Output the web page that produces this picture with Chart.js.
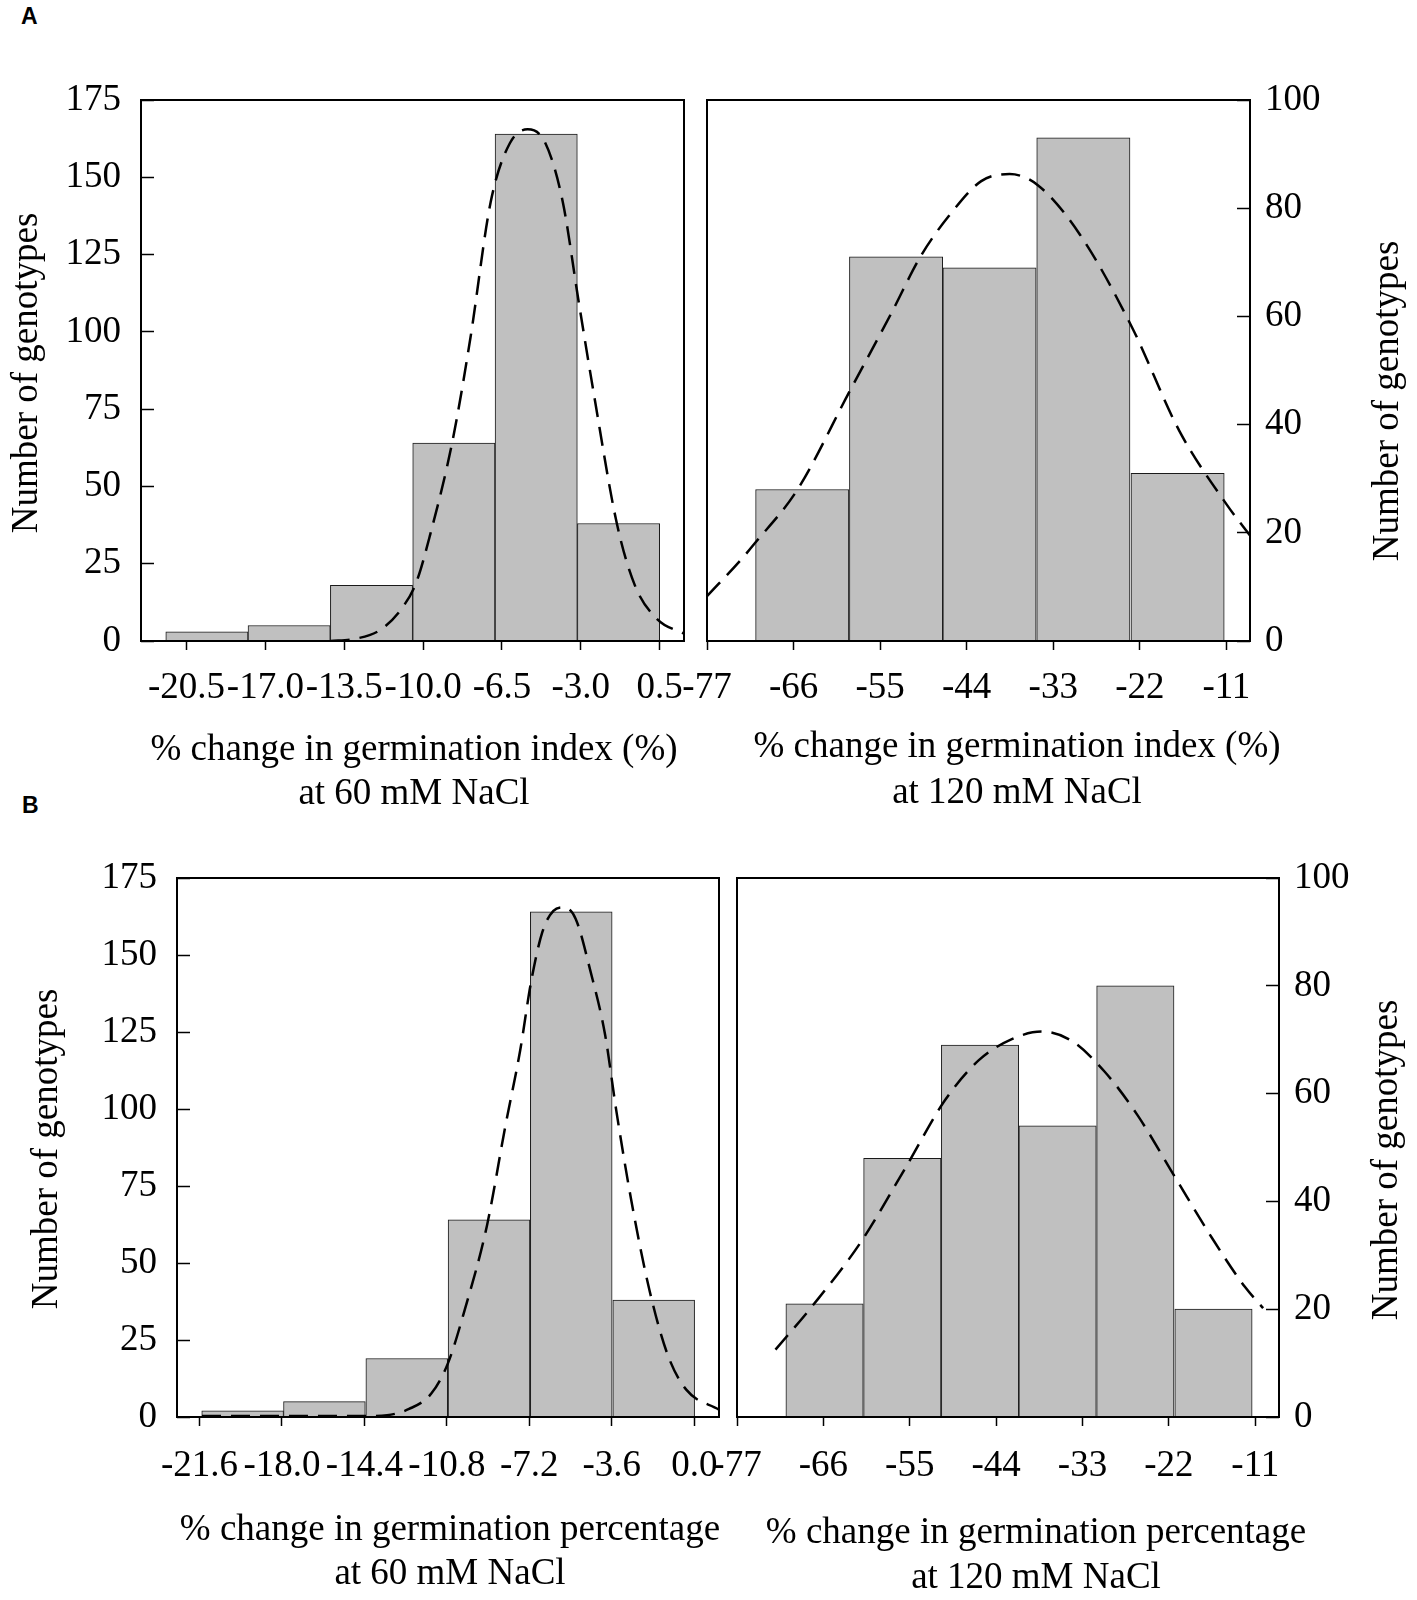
<!DOCTYPE html>
<html>
<head>
<meta charset="utf-8">
<script src="https://cdn.jsdelivr.net/npm/chart.js@4.4.1/dist/chart.umd.min.js"></script>
<style>
  html, body { margin: 0; padding: 0; background: #fff; }
  #page { position: relative; width: 1417px; height: 1600px; overflow: hidden; }
  #page canvas { position: absolute; left: 0; top: 0; }
  .tag { position: absolute; font: bold 23px "Liberation Sans", Arial, sans-serif; line-height: 23px; color: #000; }
</style>
</head>
<body>
<div id="page">
  <div class="tag" style="left:21px; top:5px;">A</div>
  <div class="tag" style="left:22px; top:794px;">B</div>
  <canvas id="aLeft" width="1417" height="1600"></canvas>
  <canvas id="aRight" width="1417" height="1600"></canvas>
  <canvas id="bLeft" width="1417" height="1600"></canvas>
  <canvas id="bRight" width="1417" height="1600"></canvas>
</div>
<script>
// A, left: germination index at 60 mM NaCl
const giLowEdges = [-21.42, -17.77, -14.12, -10.46, -6.81, -3.15, 0.5];
const giLowCounts = [3, 5, 18, 64, 164, 38];
const giLowTicks = [-20.5, -17.0, -13.5, -10.0, -6.5, -3.0, 0.5];
const giLowTickLabels = ['-20.5', '-17.0', '-13.5', '-10.0', '-6.5', '-3.0', '0.5'];
const giLowCurveX = [-14.1, -13.1, -11.9, -10.9, -10.3, -9.7, -8.7, -7.9, -7.0, -6.15, -5.36, -4.57, -3.8, -3.1, -2.4, -1.4, -0.6, 0.4, 1.58];
const giLowCurveY = [0, 0.6, 3.6, 11, 19, 34, 64.5, 98, 142, 161, 165.5, 161, 142, 110, 79, 38, 18, 7, 2.4];

// A, right: germination index at 120 mM NaCl
const giHighEdges = [-70.9, -58.9, -47.05, -35.15, -23.2, -11.2];
const giHighCounts = [28, 71, 69, 93, 31];
const giHighTicks = [-77, -66, -55, -44, -33, -22, -11];
const giHighTickLabels = ['-77', '-66', '-55', '-44', '-33', '-22', '-11'];
const giHighCurveX = [-77, -72.7, -70.9, -65.5, -58.9, -53.5, -49.9, -46.3, -42.15, -38.55, -35.0, -29.6, -23.0, -17.0, -11.0, -8.0];
const giHighCurveY = [8.3, 15, 18.1, 28, 46.1, 60.8, 71, 78.5, 85, 86.3, 84.3, 75.1, 58, 38.9, 25.3, 19.5];

// B, left: germination percentage at 60 mM NaCl
const gpLowEdges = [-21.49, -17.94, -14.35, -10.75, -7.17, -3.57, 0.03];
const gpLowCounts = [2, 5, 19, 64, 164, 38];
const gpLowTicks = [-21.6, -18.0, -14.4, -10.8, -7.2, -3.6, 0.0];
const gpLowTickLabels = ['-21.6', '-18.0', '-14.4', '-10.8', '-7.2', '-3.6', '0.0'];
const gpLowCurveX = [-21.49, -14.38, -13.41, -12.45, -11.48, -10.75, -10.02, -9.05, -8.25, -7.6, -7.12, -6.63, -6.15, -5.7, -5.18, -4.54, -3.89, -3.4, -2.76, -1.95, -1.15, -0.34, 1.08];
const gpLowCurveY = [0.3, 0.3, 0.6, 2.6, 7.6, 17.5, 34.8, 62.1, 94.3, 119, 141.4, 157.5, 164.3, 165.5, 161.8, 145, 124, 99.3, 70.8, 41, 20, 8.8, 2.4];

// B, right: germination percentage at 120 mM NaCl
const gpHighEdges = [-70.8, -60.9, -51.0, -41.1, -31.25, -21.3, -11.35];
const gpHighCounts = [21, 48, 69, 54, 80, 20];
const gpHighTicks = [-77, -66, -55, -44, -33, -22, -11];
const gpHighTickLabels = ['-77', '-66', '-55', '-44', '-33', '-22', '-11'];
const gpHighCurveX = [-72.1, -67.4, -61.3, -55.6, -50.5, -46.2, -42.0, -38.2, -34.4, -30.2, -26.0, -21.3, -16.55, -12.3, -10.0];
const gpHighCurveY = [12.5, 20.6, 32.3, 46.1, 58.8, 66.2, 70.1, 71.5, 69.8, 64.1, 56.0, 44.7, 33.3, 24.1, 20.2];

const yTitle = 'Number of genotypes';

Chart.defaults.font.family = '"Liberation Serif", "Times New Roman", serif';
Chart.defaults.font.size = 37;
Chart.defaults.color = '#000';

const PAGE_W = 1417, PAGE_H = 1600;
const Y_W = 130, X_H = 150;

// box round the plot area
const frame = {
    id: 'frame',
    afterDatasetsDraw(chart) {
        const { ctx, chartArea: a } = chart;
        ctx.save();
        ctx.strokeStyle = '#000';
        ctx.lineWidth = 2;
        ctx.strokeRect(a.left, a.top, a.right - a.left, a.bottom - a.top);
        ctx.restore();
    }
};

function captions(p) {
    return {
        id: 'captions',
        afterDraw(chart) {
            const ctx = chart.ctx;
            ctx.save();
            ctx.fillStyle = '#000';
            ctx.font = '37px "Liberation Serif", "Times New Roman", serif';
            ctx.textAlign = 'center';
            ctx.textBaseline = 'alphabetic';
            p.xTitle.forEach((t, i) => ctx.fillText(t, p.xTitleCenter, p.xTitleBase[i]));
            ctx.translate(p.yTitleBase, p.yTitleCenter);
            ctx.rotate(-Math.PI / 2);
            ctx.fillText(yTitle, 0, 0);
            ctx.restore();
        }
    };
}

function drawPanel(id, p) {
    const centers = p.counts.map((c, i) => (p.edges[i] + p.edges[i + 1]) / 2);
    const left = p.side === 'left';
    const padding = {
        left: left ? p.box.l - Y_W : p.box.l,
        right: left ? PAGE_W - p.box.r : PAGE_W - p.box.r - Y_W,
        top: p.box.t,
        bottom: PAGE_H - p.box.b - X_H
    };

    new Chart(document.getElementById(id), {
        type: 'bar',
        data: {
            datasets: [{
                type: 'line',
                xAxisID: 'x',
                data: p.curveX.map((x, i) => ({ x: x, y: p.curveY[i] })),
                borderColor: '#000',
                borderWidth: 2.5,
                borderDash: [19, 10],
                pointRadius: 0,
                fill: false,
                cubicInterpolationMode: 'monotone',
                order: 1
            }, {
                type: 'bar',
                xAxisID: 'xb',
                data: centers.map((c, i) => ({ x: c, y: p.counts[i] })),
                backgroundColor: '#c0c0c0',
                borderColor: '#1a1a1a',
                borderWidth: 1,
                grouped: false,
                barPercentage: 1,
                categoryPercentage: 1,
                order: 2
            }]
        },
        options: {
            responsive: false,
            animation: false,
            events: [],
            layout: { padding: padding },
            plugins: { legend: { display: false }, tooltip: { enabled: false } },
            scales: {
                x: {
                    type: 'linear',
                    position: 'bottom',
                    min: p.xMin,
                    max: p.xMax,
                    bounds: 'data',
                    offset: false,
                    afterBuildTicks: s => { s.ticks = p.ticks.map(v => ({ value: v })); },
                    afterFit: s => { s.height = X_H; s.paddingLeft = 0; s.paddingRight = 0; },
                    ticks: {
                        autoSkip: false,
                        maxRotation: 0,
                        minRotation: 0,
                        padding: p.xPad,
                        callback: (v, i) => p.tickLabels[i]
                    },
                    grid: { drawOnChartArea: false, offset: false, tickLength: 9, tickColor: '#000', tickWidth: 1.5 },
                    border: { display: false }
                },
                xb: {
                    type: 'linear',
                    display: false,
                    min: p.xMin,
                    max: p.xMax,
                    bounds: 'data',
                    offset: false,
                    grid: { offset: false },
                    afterBuildTicks: s => { s.ticks = p.edges.map(v => ({ value: v })); }
                },
                y: {
                    type: 'linear',
                    position: p.side,
                    min: 0,
                    max: p.yMax,
                    afterFit: s => { s.width = Y_W; s.paddingTop = 0; s.paddingBottom = 0; },
                    ticks: { stepSize: p.yStep, padding: left ? 33 : 28 },
                    grid: { drawOnChartArea: false, tickLength: -13, tickColor: '#000', tickWidth: 1.5 },
                    border: { display: false }
                }
            }
        },
        plugins: [frame, captions(p)]
    });
}

drawPanel('aLeft', {
    side: 'left', box: { l: 141, t: 100, r: 684, b: 641 },
    xMin: -22.52, xMax: 1.58, yMax: 175, yStep: 25, xPad: 16,
    edges: giLowEdges, counts: giLowCounts, ticks: giLowTicks, tickLabels: giLowTickLabels,
    curveX: giLowCurveX, curveY: giLowCurveY,
    xTitle: ['% change in germination index (%)', 'at 60 mM NaCl'],
    xTitleCenter: 414, xTitleBase: [760, 804],
    yTitleBase: 37, yTitleCenter: 373
});

drawPanel('aRight', {
    side: 'right', box: { l: 707, t: 100, r: 1250, b: 641 },
    xMin: -77, xMax: -8.0, yMax: 100, yStep: 20, xPad: 16,
    edges: giHighEdges, counts: giHighCounts, ticks: giHighTicks, tickLabels: giHighTickLabels,
    curveX: giHighCurveX, curveY: giHighCurveY,
    xTitle: ['% change in germination index (%)', 'at 120 mM NaCl'],
    xTitleCenter: 1017, xTitleBase: [757, 803],
    yTitleBase: 1398, yTitleCenter: 401
});

drawPanel('bLeft', {
    side: 'left', box: { l: 177, t: 878, r: 719, b: 1417 },
    xMin: -22.58, xMax: 1.08, yMax: 175, yStep: 25, xPad: 18,
    edges: gpLowEdges, counts: gpLowCounts, ticks: gpLowTicks, tickLabels: gpLowTickLabels,
    curveX: gpLowCurveX, curveY: gpLowCurveY,
    xTitle: ['% change in germination percentage', 'at 60 mM NaCl'],
    xTitleCenter: 450, xTitleBase: [1540, 1584],
    yTitleBase: 57, yTitleCenter: 1149
});

drawPanel('bRight', {
    side: 'right', box: { l: 737, t: 878, r: 1279, b: 1417 },
    xMin: -77, xMax: -7.98, yMax: 100, yStep: 20, xPad: 18,
    edges: gpHighEdges, counts: gpHighCounts, ticks: gpHighTicks, tickLabels: gpHighTickLabels,
    curveX: gpHighCurveX, curveY: gpHighCurveY,
    xTitle: ['% change in germination percentage', 'at 120 mM NaCl'],
    xTitleCenter: 1036, xTitleBase: [1543, 1588],
    yTitleBase: 1397, yTitleCenter: 1160
});
</script>
</body>
</html>
